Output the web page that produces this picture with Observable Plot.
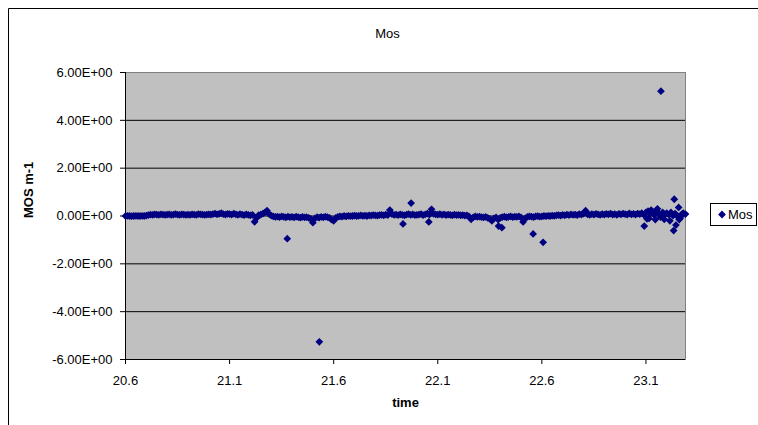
<!DOCTYPE html>
<html>
<head>
<meta charset="utf-8">
<script src="https://cdn.jsdelivr.net/npm/d3@7"></script>
<script src="https://cdn.jsdelivr.net/npm/@observablehq/plot@0.6"></script>
<style>
  html, body { margin: 0; padding: 0; background: #fff; }
  #chart { width: 758px; height: 425px; overflow: hidden; }
  svg { font-family: "Liberation Sans", Arial, sans-serif; }
</style>
</head>
<body>
<div id="chart"></div>
<script>
// ---- data ----
const bandTimes = [
  20.60,20.61,20.62,20.63,20.64,20.65,20.66,20.67,20.68,20.69,
  20.70,20.71,20.72,20.73,20.74,20.75,20.76,20.77,20.78,20.79,
  20.80,20.81,20.82,20.83,20.84,20.85,20.86,20.87,20.88,20.89,
  20.90,20.91,20.92,20.93,20.94,20.95,20.96,20.97,20.98,20.99,
  21.00,21.01,21.02,21.03,21.04,21.05,21.06,21.07,21.08,21.09,
  21.10,21.11,21.12,21.13,21.14,21.15,21.16,21.17,21.18,21.19,
  21.20,21.21,21.22,21.23,21.24,21.25,21.26,21.27,21.28,21.29,
  21.30,21.31,21.32,21.33,21.34,21.35,21.36,21.37,21.38,21.39,
  21.40,21.41,21.42,21.43,21.44,21.45,21.46,21.47,21.48,21.49,
  21.50,21.51,21.52,21.53,21.54,21.55,21.56,21.57,21.58,21.59,
  21.60,21.61,21.62,21.63,21.64,21.65,21.66,21.67,21.68,21.69,
  21.70,21.71,21.72,21.73,21.74,21.75,21.76,21.77,21.78,21.79,
  21.80,21.81,21.82,21.83,21.84,21.85,21.86,21.87,21.88,21.89,
  21.90,21.91,21.92,21.93,21.94,21.95,21.96,21.97,21.98,21.99,
  22.00,22.01,22.02,22.03,22.04,22.05,22.06,22.07,22.08,22.09,
  22.10,22.11,22.12,22.13,22.14,22.15,22.16,22.17,22.18,22.19,
  22.20,22.21,22.22,22.23,22.24,22.25,22.26,22.27,22.28,22.29,
  22.30,22.31,22.32,22.33,22.34,22.35,22.36,22.37,22.38,22.39,
  22.40,22.41,22.42,22.43,22.44,22.45,22.46,22.47,22.48,22.49,
  22.50,22.51,22.52,22.53,22.54,22.55,22.56,22.57,22.58,22.59,
  22.60,22.61,22.62,22.63,22.64,22.65,22.66,22.67,22.68,22.69,
  22.70,22.71,22.72,22.73,22.74,22.75,22.76,22.77,22.78,22.79,
  22.80,22.81,22.82,22.83,22.84,22.85,22.86,22.87,22.88,22.89,
  22.90,22.91,22.92,22.93,22.94,22.95,22.96,22.97,22.98,22.99,
  23.00,23.01,23.02,23.03,23.04,23.05,23.06,23.07,23.08,23.09,
  23.10,23.11,23.12,23.13,23.14,23.15,23.16,23.17,23.18,23.19,
  23.20,23.21,23.22,23.23,23.24,23.25,23.26,23.27,23.28,23.29
];
const bandValues = [
  0.00,0.01,0.00,-0.01,0.00,0.01,0.00,0.00,0.01,0.00,
  0.02,0.04,0.06,0.05,0.07,0.06,0.05,0.07,0.06,0.05,
  0.06,0.07,0.05,0.06,0.08,0.06,0.05,0.07,0.06,0.05,
  0.06,0.05,0.07,0.06,0.05,0.08,0.07,0.06,0.05,0.06,
  0.07,0.06,0.08,0.10,0.07,0.09,0.12,0.08,0.06,0.09,
  0.08,0.06,0.10,0.07,0.05,0.08,0.06,0.04,0.07,0.05,
  0.03,0.05,-0.24,-0.08,0.04,0.06,0.10,0.15,0.22,0.08,
  0.02,-0.02,-0.04,-0.03,-0.05,-0.02,-0.04,-0.06,-0.03,-0.05,
  -0.04,-0.06,-0.03,-0.05,-0.07,-0.04,-0.06,-0.05,-0.08,-0.12,
  -0.28,-0.10,-0.05,-0.07,-0.04,-0.06,-0.03,-0.05,-0.08,-0.15,
  -0.20,-0.08,-0.04,-0.02,-0.03,0.00,-0.02,0.01,-0.01,0.00,
  0.02,0.00,0.01,0.03,0.01,0.02,0.00,0.03,0.02,0.04,
  0.03,0.02,0.04,0.05,0.03,0.06,0.04,0.25,0.08,0.05,
  0.06,0.04,0.07,0.05,0.03,0.06,0.08,0.05,0.07,0.04,
  0.05,0.06,0.08,0.04,0.07,0.10,0.06,0.15,0.09,0.07,
  0.06,0.08,0.05,0.07,0.04,0.06,0.05,0.03,0.06,0.04,
  0.05,0.03,0.04,0.02,0.03,-0.02,-0.14,-0.06,-0.02,-0.04,
  -0.03,-0.05,-0.06,-0.04,-0.08,-0.12,-0.20,-0.10,-0.06,-0.15,
  -0.08,-0.05,-0.03,-0.06,-0.04,-0.02,-0.05,-0.03,-0.04,-0.02,
  -0.06,-0.25,-0.10,-0.04,-0.02,-0.03,-0.05,-0.02,-0.01,-0.03,
  -0.02,0.00,-0.01,0.01,0.00,0.02,0.01,0.03,0.04,0.02,
  0.05,0.03,0.06,0.04,0.07,0.05,0.06,0.04,0.08,0.06,
  0.10,0.22,0.07,0.05,0.08,0.06,0.09,0.07,0.05,0.08,
  0.06,0.09,0.07,0.10,0.06,0.08,0.05,0.09,0.07,0.10,
  0.08,0.06,0.11,0.07,0.09,0.06,0.10,0.08,0.12,0.05,
  0.15,0.20,0.10,0.18,0.05,0.22,0.12,-0.05,0.15,0.08,
  0.12,0.06,0.15,0.02,0.10,0.00,-0.15,0.05,0.12,0.08
];
const extraTimes = [21.377,21.531,21.933,21.972,22.057,22.070,22.392,22.408,22.558,22.606,
  23.092,23.105,23.115,23.125,23.135,23.145,23.155,23.172,23.188,23.215,23.233,23.236,23.244,23.257,23.265,23.276];
const extraValues = [-0.95,-5.26,-0.33,0.54,-0.25,0.28,-0.42,-0.49,-0.75,-1.10,
  -0.42,-0.12,-0.10,0.25,0.12,-0.15,0.30,5.22,-0.14,-0.20,-0.61,0.70,-0.38,0.36,-0.08,0.10];
const xTicks = [20.6, 21.1, 21.6, 22.1, 22.6, 23.1];
const yTicks = [-6, -4, -2, 0, 2, 4, 6];
const gridValues = [-4, -2, 0, 2, 4];
const seriesName = "Mos";
const titleText = "Mos";
const xLabel = "time";
const yLabel = "MOS m-1";

const points = bandTimes.map((t, i) => ({t, v: bandValues[i]}))
  .concat(extraTimes.map((t, i) => ({t, v: extraValues[i]})));

const yFmt = d => d.toExponential(2).toUpperCase().replace(/E([+-])(\d)$/, (m, s, n) => "E" + s + "0" + n);

const navy = "#000080";
const R = 3.5;
const plot = Plot.plot({
  width: 758,
  height: 425,
  marginLeft: 125,
  marginRight: 73,
  marginTop: 72,
  marginBottom: 66,
  style: {fontSize: "13px", fontFamily: "'Liberation Sans', Arial, sans-serif", color: "#000", background: "#fff"},
  x: {domain: [20.6, 23.29], ticks: xTicks, tickFormat: d => d.toFixed(1)},
  y: {domain: [-6, 6], ticks: yTicks, tickFormat: yFmt},
  marks: [
    Plot.frame({fill: "#C0C0C0", stroke: "#808080"}),
    Plot.ruleY(gridValues, {stroke: "#000", strokeWidth: 1}),
    Plot.axisX({ticks: xTicks, tickFormat: d => d.toFixed(1), tickSize: 5, tickPadding: 11, label: null, stroke: "#000"}),
    Plot.axisY({ticks: yTicks, tickFormat: yFmt, tickSize: 5, tickPadding: 8, label: null, stroke: "#000"}),
    Plot.ruleY([-6], {stroke: "#000"}),
    Plot.ruleX([20.6], {stroke: "#000"}),
    Plot.dot(points, {x: "t", y: "v", symbol: "diamond2", r: R, fill: navy, stroke: null}),
    Plot.text([titleText], {frameAnchor: "top", dx: -18, dy: -44, fontSize: 13}),
    Plot.text([xLabel], {frameAnchor: "bottom", dy: 47, fontSize: 13, fontWeight: "bold"}),
    Plot.text([yLabel], {frameAnchor: "left", dx: -97, dy: 2, rotate: -90, fontSize: 13, fontWeight: "bold"})
  ]
});
document.getElementById("chart").appendChild(plot);

// chart-area border and legend
const svg = d3.select(plot);
svg.append("path").attr("d", "M8.5,425V8.5H758").attr("fill", "none").attr("stroke", "#000");
const lg = svg.append("g");
lg.append("rect").attr("x", 710.5).attr("y", 203.5).attr("width", 46).attr("height", 22)
  .attr("fill", "#fff").attr("stroke", "#000");
lg.append("path").attr("d", d3.symbol(d3.symbolDiamond2, R * R * Math.PI)()).attr("transform", "translate(722,214.5)").attr("fill", navy);
lg.append("text").attr("x", 728).attr("y", 214.5).attr("dy", "0.35em").attr("text-anchor", "start")
  .attr("font-size", 13).text(seriesName);
</script>
</body>
</html>
